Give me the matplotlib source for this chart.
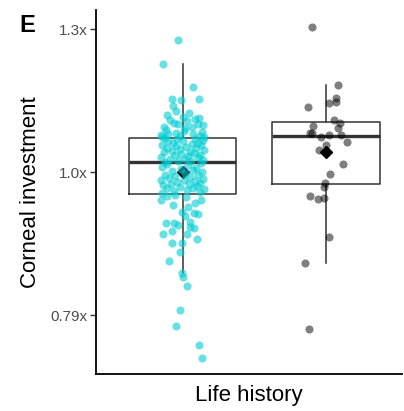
import numpy as np
import matplotlib.pyplot as plt

plt.rcParams['font.family'] = ['Liberation Sans', 'DejaVu Sans']

# log10(corneal investment), one value per species
cyan_log = [
    0.0924, 0.0756, 0.0596, 0.0512, 0.0504, 0.0512, 0.0464, 0.0428, 0.0404, 0.0416,
    0.0384, 0.0376, 0.0320, 0.0348, 0.0308, 0.0336, 0.0284, 0.0260, 0.0296, 0.0364,
    0.0336, 0.0360, 0.0316, 0.0380, 0.0332, 0.0268, 0.0276, 0.0288, 0.0268, 0.0252,
    0.0248, 0.0252, 0.0248,
    0.0072, 0.0076, 0.0080, 0.0088, 0.0092, 0.0096, 0.0104, 0.0108, 0.0112, 0.0120,
    0.0124, 0.0128, 0.0136, 0.0140, 0.0144, 0.0152, 0.0156, 0.0160, 0.0168, 0.0172,
    0.0176, 0.0184, 0.0188, 0.0192, 0.0200, 0.0204, 0.0208, 0.0216, 0.0220, 0.0224,
    0.0232, 0.0236, 0.0240,
    -0.0144, -0.0136, -0.0132, -0.0124, -0.0120, -0.0112, -0.0108, -0.0100, -0.0096,
    -0.0088, -0.0084, -0.0080, -0.0072, -0.0068, -0.0060, -0.0056, -0.0052, -0.0044,
    -0.0040, -0.0032, -0.0028, -0.0020, -0.0016, -0.0008, 0.0000, 0.0008, 0.0016,
    0.0024, 0.0032, 0.0040, 0.0048, 0.0060, 0.0068,
    -0.0192, -0.0244, -0.0212, -0.0276, -0.0284, -0.0292, -0.0352, -0.0356, -0.0368,
    -0.0344, -0.0432, -0.0408, -0.0380, -0.0392, -0.0428, -0.0468, -0.0492, -0.0492,
    -0.0556, -0.0620, -0.0706, -0.0734, -0.0792, -0.0964, -0.1076, -0.1208, -0.1296,
    -0.0164, -0.0160, -0.0172, -0.0192, -0.0228, -0.0304,
]
cyan_jitter = [
    -0.029, -0.134, 0.071, -0.071, -0.013, 0.115, -0.064, -0.043, -0.108, 0.047,
    0.001, 0.085, -0.129, -0.057, 0.017, 0.106, 0.134, -0.152, -0.115, -0.087,
    -0.031, 0.031, 0.066, 0.115, 0.143, -0.101, -0.045, 0.010, 0.073, 0.122,
    -0.143, -0.017, 0.150,
    -0.120, 0.060, -0.030, 0.140, -0.085, 0.015, 0.105, -0.150, 0.035, -0.055,
    0.125, -0.010, 0.080, -0.130, 0.050, -0.075, 0.150, -0.020, 0.095, -0.110,
    0.025, -0.045, 0.130, -0.140, 0.065, -0.065, 0.110, 0.000, -0.100, 0.145,
    -0.040, 0.085, -0.125,
    -0.140, 0.120, -0.060, 0.030, 0.150, -0.110, 0.070, -0.020, 0.100,
    -0.135, 0.045, -0.080, 0.125, -0.035, 0.085, -0.150, 0.010, 0.140,
    -0.095, 0.055, -0.050, 0.110, -0.125, 0.020, 0.135, -0.070, 0.075,
    -0.010, 0.095, -0.145, 0.040, -0.105, 0.130,
    -0.148, 0.040, 0.087, -0.006, 0.082, 0.110, -0.117, -0.057, -0.033,
    0.052, -0.134, -0.071, 0.052, 0.082, 0.029, 0.099, -0.071, -0.006,
    -0.017, -0.092, -0.003, 0.001, 0.029, -0.015, -0.045, 0.113, 0.136,
    -0.108, -0.052, 0.024, 0.129, -0.066, 0.017,
]
gray_log = [
    0.1018, 0.0612, 0.0520, 0.0488, 0.0492, 0.0456, 0.0364, 0.0348, 0.0324, 0.0308,
    0.0276, 0.0272, 0.0248, 0.0264, 0.0264, 0.0212, 0.0188, 0.0156, 0.0058, -0.0010,
    -0.0076, -0.0100, -0.0164, -0.0188, -0.0180, -0.0452, -0.0636, -0.1096,
]
gray_jitter = [
    -0.095, 0.082, 0.072, 0.019, 0.068, -0.128, 0.056, 0.098, -0.089, 0.086,
    -0.100, -0.109, -0.035, 0.021, 0.105, 0.144, 0.000, -0.049, 0.121, 0.028,
    -0.005, -0.014, -0.114, -0.056, -0.014, 0.021, -0.146, -0.121,
]
tick_vals = [-0.1, 0.0, 0.1]
tick_labels = ["0.79x", "1.0x", "1.3x"]

groups = [cyan_log, gray_log]
jitters = [cyan_jitter, gray_jitter]
colors = ["#00CED1", "#000000"]
alphas = [0.6, 0.5]

fig = plt.figure(figsize=(4.04, 4.11), dpi=100)
ax = fig.add_axes([96/404, 37/411, 306/404, 364/411])

ax.boxplot(groups, positions=[1, 2], widths=0.75, showfliers=False, showcaps=False,
           whis=1.5,
           boxprops=dict(color="#333333", linewidth=1.1),
           whiskerprops=dict(color="#333333", linewidth=1.1),
           medianprops=dict(color="#333333", linewidth=2.4),
           zorder=2)

for i, vals in enumerate(groups):
    ax.plot(i + 1, np.mean(vals), marker="D", color="black", markersize=6.5, zorder=3)

for i, (vals, jit) in enumerate(zip(groups, jitters)):
    ax.scatter(np.array(jit) + i + 1, vals, s=34, color=colors[i], alpha=alphas[i],
               linewidths=0, zorder=4)

ax.set_xlim(0.397, 2.53)
ax.set_ylim(-0.141, 0.1135)
ax.set_yticks(tick_vals)
ax.set_yticklabels(tick_labels)
ax.set_xticks([])

for s in ["top", "right"]:
    ax.spines[s].set_visible(False)
for s in ["left", "bottom"]:
    ax.spines[s].set_linewidth(1.3)
    ax.spines[s].set_color("black")

ax.tick_params(axis="y", length=4, width=1.0, color="#333333", labelcolor="#4d4d4d",
               labelsize=11, pad=2)

ax.set_ylabel("Corneal investment", fontsize=16, labelpad=7)
ax.set_xlabel("Life history", fontsize=16, labelpad=8)

fig.text(0.048, 0.967, "E", fontsize=17, fontweight="bold", va="top", ha="left")

fig.savefig("out.png", dpi=100)
